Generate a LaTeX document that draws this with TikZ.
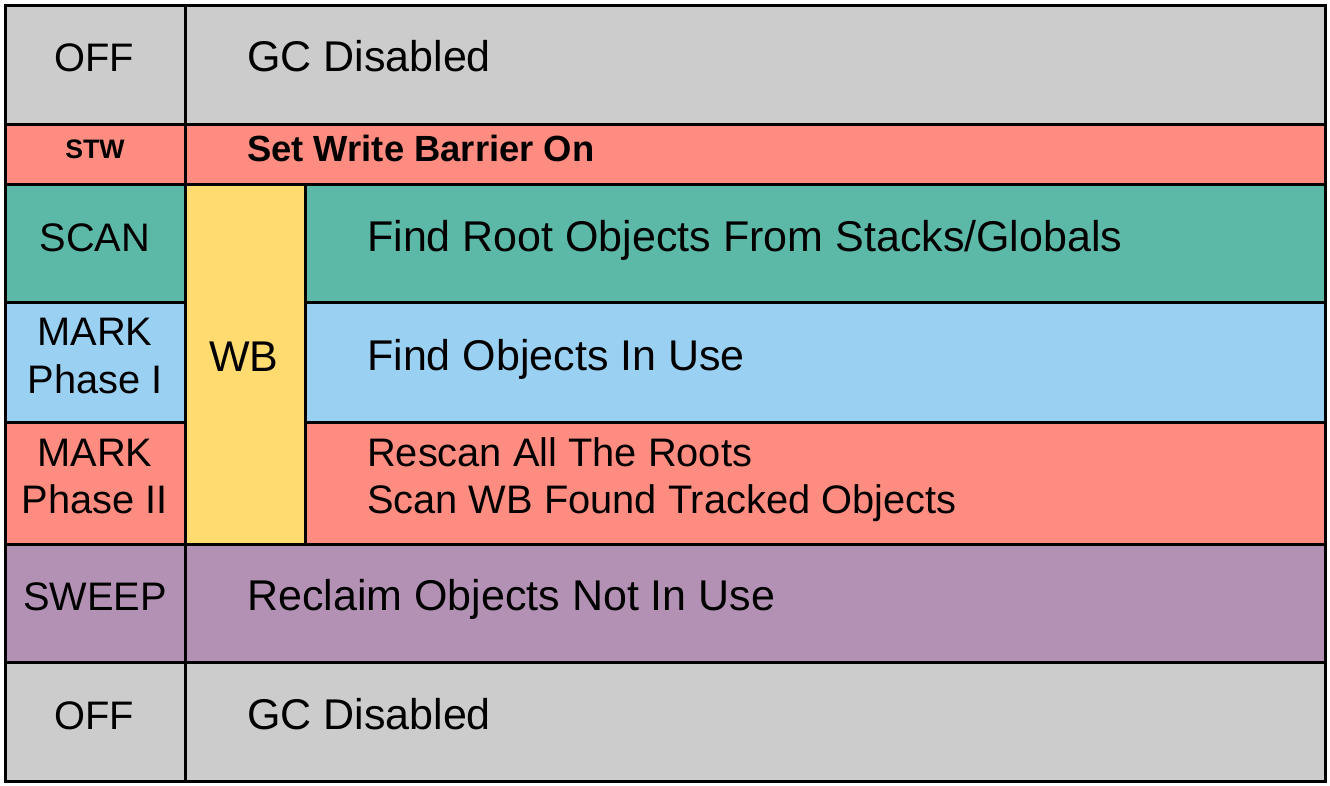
\documentclass[tikz,border=0pt]{standalone}
\usepackage{fontspec}
\setmainfont{Liberation Sans}
\definecolor{cgray}{HTML}{CCCCCC}
\definecolor{csalmon}{HTML}{FF8C80}
\definecolor{cteal}{HTML}{5CB9A7}
\definecolor{cblue}{HTML}{9AD1F2}
\definecolor{cyellow}{HTML}{FFDB70}
\definecolor{cpurple}{HTML}{B391B4}
\begin{document}
\begin{tikzpicture}[x=1pt,y=-1pt,
  cell/.style={draw=black, line width=3pt, inner sep=0pt, anchor=north west},
  big/.style={font=\fontsize{43}{48}\selectfont, inner sep=0pt},
  mid/.style={font=\fontsize{39.8}{45}\selectfont, inner sep=0pt},
  lbl/.style={mid, anchor=base},
  txt/.style={big, anchor=base west},
  txtsm/.style={mid, anchor=base west}]
\useasboundingbox (0,0) rectangle (1330,786);
% left column
\node[cell, fill=cgray, minimum width=180pt, minimum height=119pt] (offAL) at (4,4) {};
\node[cell, fill=csalmon, minimum width=180pt, minimum height=60pt] (stwL) at (4,123) {};
\node[cell, fill=cteal, minimum width=180pt, minimum height=118pt] (scanL) at (4,183) {};
\node[cell, fill=cblue, minimum width=180pt, minimum height=120pt] (markIL) at (4,301) {};
\node[cell, fill=csalmon, minimum width=180pt, minimum height=122pt] (markIIL) at (4,421) {};
\node[cell, fill=cpurple, minimum width=180pt, minimum height=118pt] (sweepL) at (4,543) {};
\node[cell, fill=cgray, minimum width=180pt, minimum height=119pt] (offBL) at (4,661) {};
% right column
\node[cell, fill=cgray, minimum width=1140pt, minimum height=119pt] (offAR) at (184,4) {};
\node[cell, fill=csalmon, minimum width=1140pt, minimum height=60pt] (stwR) at (184,123) {};
\node[cell, fill=cteal, minimum width=1020pt, minimum height=118pt] (scanR) at (304,183) {};
\node[cell, fill=cblue, minimum width=1020pt, minimum height=120pt] (markIR) at (304,301) {};
\node[cell, fill=csalmon, minimum width=1020pt, minimum height=122pt] (markIIR) at (304,421) {};
\node[cell, fill=cpurple, minimum width=1140pt, minimum height=118pt] (sweepR) at (184,543) {};
\node[cell, fill=cgray, minimum width=1140pt, minimum height=119pt] (offBR) at (184,661) {};
% WB column
\node[cell, fill=cyellow, minimum width=120pt, minimum height=360pt] (wb) at (184,183) {};
% labels
\node[lbl] (tOffA) at (94,72) {OFF};
\node[font=\fontsize{26.7}{30}\selectfont\bfseries, inner sep=0pt, anchor=base] (tStw) at (95,159) {STW};
\node[lbl] (tScan) at (95,252) {SCAN};
\node[lbl] (tMarkIa) at (95,345) {MARK};
\node[lbl] (tMarkIb) at (95,393) {Phase I};
\node[lbl] (tMarkIIa) at (95,466) {MARK};
\node[lbl] (tMarkIIb) at (95,513) {Phase II};
\node[lbl] (tSweep) at (95,610) {SWEEP};
\node[lbl] (tOffB) at (94,729) {OFF};
\node[big, anchor=base] (tWb) at (244,371) {WB};
% descriptions
\node[txt] (dOffA) at (247,72) {GC Disabled};
\node[font=\fontsize{36.4}{40}\selectfont\bfseries, inner sep=0pt, anchor=base west] (dStw) at (247,162) {Set Write Barrier On};
\node[txt] (dScan) at (367,252) {Find Root Objects From Stacks/Globals};
\node[txt] (dMarkI) at (367,370) {Find Objects In Use};
\node[txtsm] (dMarkIIa) at (367,466) {Rescan All The Roots};
\node[txtsm] (dMarkIIb) at (367,513) {Scan WB Found Tracked Objects};
\node[txt] (dSweep) at (247,610) {Reclaim Objects Not In Use};
\node[txt] (dOffB) at (247,729) {GC Disabled};
\end{tikzpicture}
\end{document}
